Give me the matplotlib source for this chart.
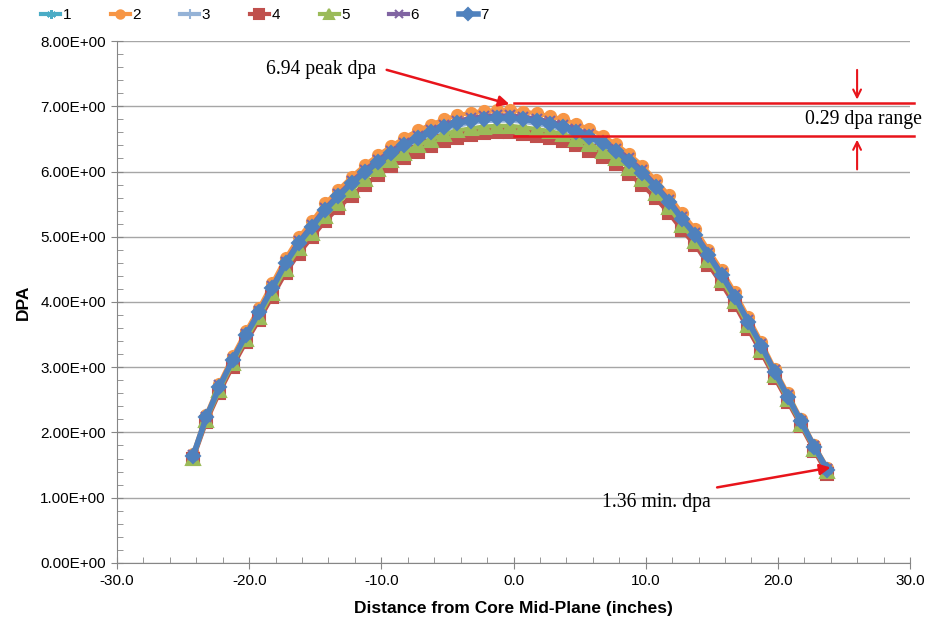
import numpy as np
import matplotlib
matplotlib.use("Agg")
import matplotlib.pyplot as plt
from matplotlib.ticker import FuncFormatter, MultipleLocator

plt.rcParams['font.family'] = ['Liberation Sans', 'DejaVu Sans']

# distance from core mid-plane (inches), one point per inch
distance = np.arange(-24.25, 24.0, 1.0)

dpa_1 = [1.64, 2.23, 2.70, 3.12, 3.50, 3.85, 4.22, 4.60, 4.91, 5.16, 5.42, 5.63, 5.83, 6.00, 6.15, 6.29, 6.41,
         6.52, 6.61, 6.69, 6.75, 6.79, 6.82, 6.83, 6.83, 6.81, 6.78, 6.74, 6.69, 6.62, 6.54, 6.44, 6.32, 6.17,
         5.99, 5.78, 5.55, 5.28, 5.04, 4.73, 4.42, 4.09, 3.71, 3.34, 2.94, 2.56, 2.18, 1.79, 1.44]
dpa_2 = [1.67, 2.27, 2.75, 3.17, 3.55, 3.91, 4.29, 4.67, 4.99, 5.24, 5.51, 5.72, 5.92, 6.10, 6.25, 6.39, 6.52,
         6.63, 6.72, 6.80, 6.86, 6.90, 6.93, 6.94, 6.94, 6.92, 6.89, 6.85, 6.80, 6.73, 6.65, 6.55, 6.42, 6.27,
         6.09, 5.87, 5.64, 5.36, 5.12, 4.80, 4.49, 4.15, 3.77, 3.39, 2.98, 2.60, 2.21, 1.81, 1.46]
dpa_3 = [1.63, 2.22, 2.68, 3.09, 3.47, 3.82, 4.18, 4.56, 4.87, 5.12, 5.38, 5.59, 5.79, 5.95, 6.10, 6.24, 6.36,
         6.47, 6.56, 6.64, 6.70, 6.74, 6.77, 6.78, 6.78, 6.76, 6.73, 6.69, 6.64, 6.57, 6.49, 6.39, 6.27, 6.12,
         5.94, 5.74, 5.51, 5.24, 5.00, 4.69, 4.38, 4.06, 3.68, 3.31, 2.91, 2.53, 2.16, 1.77, 1.42]
dpa_4 = [1.59, 2.16, 2.61, 3.01, 3.38, 3.72, 4.08, 4.44, 4.74, 4.99, 5.24, 5.44, 5.63, 5.80, 5.94, 6.08, 6.20,
         6.30, 6.39, 6.47, 6.52, 6.56, 6.59, 6.60, 6.60, 6.58, 6.55, 6.51, 6.47, 6.40, 6.32, 6.22, 6.11, 5.96,
         5.79, 5.59, 5.36, 5.10, 4.87, 4.57, 4.27, 3.95, 3.58, 3.22, 2.84, 2.47, 2.10, 1.72, 1.36]
dpa_5 = [1.61, 2.19, 2.65, 3.06, 3.43, 3.77, 4.14, 4.51, 4.82, 5.06, 5.32, 5.52, 5.72, 5.89, 6.04, 6.17, 6.29,
         6.40, 6.49, 6.57, 6.63, 6.66, 6.69, 6.70, 6.70, 6.68, 6.65, 6.62, 6.57, 6.50, 6.42, 6.32, 6.20, 6.06,
         5.88, 5.67, 5.45, 5.18, 4.94, 4.64, 4.34, 4.01, 3.64, 3.27, 2.88, 2.51, 2.13, 1.75, 1.41]
dpa_6 = [1.65, 2.24, 2.72, 3.13, 3.51, 3.86, 4.24, 4.62, 4.93, 5.18, 5.44, 5.65, 5.85, 6.03, 6.18, 6.32, 6.44,
         6.55, 6.64, 6.72, 6.78, 6.82, 6.85, 6.86, 6.86, 6.84, 6.81, 6.77, 6.72, 6.65, 6.57, 6.47, 6.35, 6.20,
         6.02, 5.80, 5.57, 5.30, 5.06, 4.75, 4.44, 4.10, 3.72, 3.35, 2.95, 2.57, 2.18, 1.79, 1.44]
dpa_7 = [1.64, 2.23, 2.70, 3.11, 3.49, 3.84, 4.21, 4.59, 4.90, 5.15, 5.41, 5.62, 5.82, 5.99, 6.14, 6.28, 6.40,
         6.51, 6.60, 6.68, 6.74, 6.78, 6.81, 6.82, 6.82, 6.80, 6.77, 6.73, 6.68, 6.61, 6.53, 6.43, 6.31, 6.16,
         5.98, 5.77, 5.54, 5.27, 5.03, 4.72, 4.41, 4.08, 3.70, 3.33, 2.93, 2.55, 2.17, 1.78, 1.43]

series_labels = ['1', '2', '3', '4', '5', '6', '7']
series = [dpa_1, dpa_2, dpa_3, dpa_4, dpa_5, dpa_6, dpa_7]
colors = ['#4BACC6', '#F79646', '#95B3D7', '#C0504D', '#9BBB59', '#8064A2', '#4F81BD']
markers = [(6, 2, 0), 'o', '+', 's', '^', 'x', 'D']
msizes = [8.5, 8, 9, 9, 9.5, 7.5, 7.5]

fig = plt.figure(figsize=(9.29, 6.22), dpi=100)
ax = fig.add_axes([0.126, 0.095, 0.8535, 0.839])

for lab, vals, c, m, ms in zip(series_labels, series, colors, markers, msizes):
    lw = 4 if lab == '7' else 3
    ax.plot(distance, vals, color=c, lw=lw, marker=m, markersize=ms,
            markerfacecolor=c, markeredgecolor=c, markeredgewidth=1.5, label=lab)

ax.set_xlim(-30, 30)
ax.set_ylim(0, 8)
ax.xaxis.set_major_locator(MultipleLocator(10))
ax.xaxis.set_minor_locator(MultipleLocator(2))
ax.yaxis.set_major_locator(MultipleLocator(1))
ax.yaxis.set_minor_locator(MultipleLocator(0.2))
ax.xaxis.set_major_formatter(FuncFormatter(lambda v, p: f"{v:.1f}"))
ax.yaxis.set_major_formatter(FuncFormatter(lambda v, p: f"{v:.2E}"))

ax.grid(axis='y', which='major', color='#A6A6A6', lw=1)
ax.set_axisbelow(True)
for s in ['top', 'right']:
    ax.spines[s].set_visible(False)
for s in ['left', 'bottom']:
    ax.spines[s].set_color('#868686')
ax.tick_params(which='major', direction='inout', length=8, color='#868686', labelsize=11, pad=4)
ax.tick_params(which='minor', direction='in', length=4, color='#868686')

ax.set_xlabel('Distance from Core Mid-Plane (inches)', fontsize=12.5, fontweight='bold', labelpad=9)
ax.set_ylabel('DPA', fontsize=12.5, fontweight='bold', labelpad=7)

leg = ax.legend(loc='center left', bbox_to_anchor=(35 / 929, 1 - 15 / 622), bbox_transform=fig.transFigure,
                ncol=7, frameon=False, fontsize=11, handlelength=1.25, handletextpad=0.15,
                columnspacing=2.6, borderaxespad=0, markerscale=0.75)

# annotations
serif = ['Liberation Serif', 'DejaVu Serif']
red = '#E8141B'
arrow = dict(arrowstyle='-|>', color=red, lw=1.8, mutation_scale=16)
ax.annotate('', xy=(-0.1, 7.02), xytext=(-9.8, 7.57), arrowprops=arrow, annotation_clip=False)
ax.text(-18.7, 7.57, '6.94 peak dpa', family=serif, fontsize=14.2, va='center', ha='left')

ax.plot([0.0, 30.3], [7.05, 7.05], color=red, lw=1.8, clip_on=False)
ax.plot([0.0, 30.3], [6.54, 6.54], color=red, lw=1.8, clip_on=False)
ax.annotate('', xy=(26.0, 7.06), xytext=(26.0, 7.6), arrowprops=dict(arrowstyle='->', color=red, lw=1.5,
            mutation_scale=14), annotation_clip=False)
ax.annotate('', xy=(26.0, 6.53), xytext=(26.0, 5.99), arrowprops=dict(arrowstyle='->', color=red, lw=1.5,
            mutation_scale=14), annotation_clip=False)
ax.text(30.9, 6.8, '0.29 dpa range', family=serif, fontsize=14.2, va='center', ha='right')

ax.annotate('', xy=(24.2, 1.47), xytext=(15.2, 1.15), arrowprops=arrow, annotation_clip=False)
ax.text(6.7, 0.92, '1.36 min. dpa', family=serif, fontsize=14.2, va='center', ha='left')

fig.savefig('out.png', dpi=100)
